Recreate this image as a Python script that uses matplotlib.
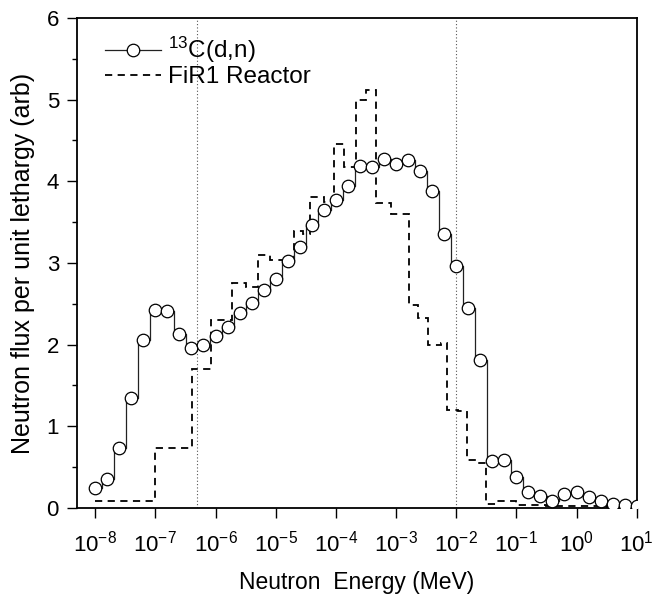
import numpy as np
import matplotlib
matplotlib.use("Agg")
from matplotlib import pyplot as plt

plt.rcParams['font.family'] = ['Liberation Sans', 'DejaVu Sans']
plt.rcParams['mathtext.fontset'] = 'custom'
plt.rcParams['mathtext.rm'] = 'Liberation Sans'
plt.rcParams['mathtext.it'] = 'Liberation Sans'
plt.rcParams['axes.unicode_minus'] = False

# 13C(d,n) spectrum, log10(E / MeV) at bin centres
c13_logE = [-8.0, -7.8, -7.6, -7.4, -7.2, -7.0, -6.8, -6.6, -6.4, -6.2,
            -6.0, -5.8, -5.6, -5.4, -5.2, -5.0, -4.8, -4.6, -4.4, -4.2,
            -4.0, -3.8, -3.6, -3.4, -3.2, -3.0, -2.8, -2.6, -2.4, -2.2,
            -2.0, -1.8, -1.6, -1.4, -1.2, -1.0, -0.8, -0.6, -0.4, -0.2,
            0.0, 0.2, 0.4, 0.6, 0.8, 1.0]
c13_flux = [0.25, 0.35, 0.74, 1.35, 2.06, 2.42, 2.41, 2.13, 1.96, 1.99,
            2.11, 2.22, 2.39, 2.51, 2.67, 2.80, 3.03, 3.20, 3.47, 3.65,
            3.77, 3.94, 4.19, 4.18, 4.27, 4.21, 4.26, 4.12, 3.88, 3.36,
            2.96, 2.45, 1.81, 0.58, 0.59, 0.38, 0.19, 0.15, 0.09, 0.17,
            0.20, 0.13, 0.08, 0.05, 0.04, 0.03]

# FiR1 reactor spectrum, group edges log10(E / MeV) and flux per group
fir1_edges = [-8.0, -7.0, -6.39, -6.07, -5.73, -5.50, -5.30, -5.10, -4.70,
              -4.55, -4.43, -4.20, -4.03, -3.87, -3.67, -3.50, -3.33, -3.08,
              -2.79, -2.64, -2.46, -2.25, -2.15, -1.97, -1.82, -1.65, -1.50,
              -1.33, -1.00, -0.50, 0.50, 1.00]
fir1_flux = [0.09, 0.73, 1.70, 2.30, 2.76, 2.71, 3.10, 3.04, 3.39,
             3.36, 3.81, 3.75, 4.46, 4.18, 5.00, 5.12, 3.73, 3.60,
             2.48, 2.33, 2.00, 2.02, 1.20, 1.19, 0.59, 0.55, 0.05,
             0.08, 0.04, 0.02, 0.01]

cut_lines = [5e-7, 1e-2]

fig = plt.figure(figsize=(6.53, 5.99), dpi=100)
ax = fig.add_axes([0.118, 0.152, 0.857, 0.818])

e_c13 = 10.0 ** np.array(c13_logE)
e_fir1 = 10.0 ** np.array(fir1_edges)

for xc in cut_lines:
    ax.axvline(xc, color='#555555', ls=(0, (1, 2)), lw=0.8, zorder=1)

ax.stairs(fir1_flux, e_fir1, baseline=None, color='black', lw=1.3,
          ls=(0, (4, 3)), label='FiR1 Reactor', zorder=2)
ax.plot(e_c13, c13_flux, drawstyle='steps-mid', color='#222222', lw=0.9,
        marker='o', ms=9, mfc='white', mec='black', mew=0.9,
        label=r'$^{13}$C(d,n)', zorder=3)

ax.set_xscale('log')
ax.set_xlim(5e-9, 10)
ax.set_ylim(0, 6)
ax.set_yticks(np.arange(0, 7, 1))
ax.set_yticks(np.arange(0.5, 6, 1), minor=True)
ax.set_xticks([10.0 ** k for k in range(-8, 2)])
ax.tick_params(which='both', direction='out', top=False, right=False,
               labelsize=16, width=1)
ax.tick_params(which='major', length=7)
ax.tick_params(which='minor', length=3.5)
ax.tick_params(axis='x', which='major', pad=9)
ax.tick_params(axis='y', which='major', pad=6)
for s in ax.spines.values():
    s.set_linewidth(1.3)

ax.set_xlabel('Neutron  Energy (MeV)', fontsize=16.5, labelpad=11)
ax.set_ylabel('Neutron flux per unit lethargy (arb)', fontsize=18, labelpad=8)

h, l = ax.get_legend_handles_labels()
ax.legend(h[::-1], l[::-1], loc='upper left', bbox_to_anchor=(0.033, 0.985),
          frameon=False, fontsize=17.5, handlelength=2.3, handletextpad=0.3,
          labelspacing=0.05, borderaxespad=0)

fig.savefig('out.png', dpi=100)
